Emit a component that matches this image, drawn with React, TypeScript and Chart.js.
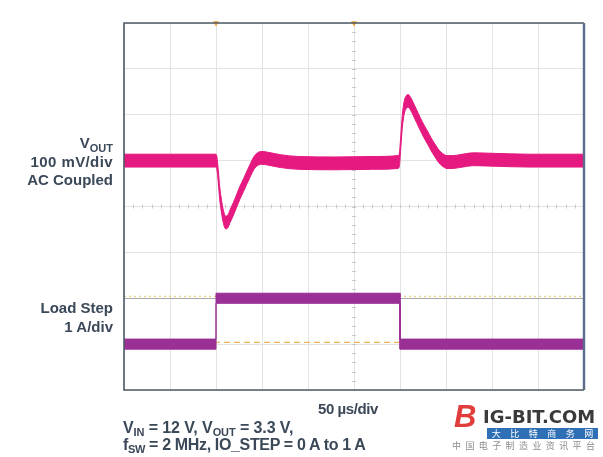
import React, { useEffect, useRef } from "react";
import { Chart, registerables } from "chart.js";

Chart.register(...registerables);

// ---- data ----
// time axis: 50 µs/div, 10 divisions
const timeMin = 0;
const timeMax = 500;
const timeStep = 50;

// VOUT trace (AC coupled, mV) — 100 mV/div
const voutTimeUs = [
  0, 50, 100, 101, 102.5, 104, 106, 108, 110.5, 113, 115.5, 118.5, 122, 126, 130, 134, 137.5,
  141, 145, 150, 157, 170, 190, 230, 270, 298, 299.5, 301, 302.5, 304.5, 307, 309, 311.5,
  314.5, 318, 322, 326, 330, 334, 338, 342, 346, 351, 358, 365, 380, 400, 440, 500,
];
const voutMv = [
  0, 0, 0, -6, -35, -70, -100, -122, -135, -132, -120, -107, -90, -70, -53, -35, -20,
  -6, 3, 6, 4, -1, -5, -6, -5, -3, 5, 45, 85, 115, 128, 130, 124,
  112, 97, 80, 64, 50, 35, 22, 10, 2, -3, -3, -1, 3, 2, 0, 0,
];
const voutMin = -500;
const voutMax = 300;
const voutStep = 100;
const voutNoiseMv = 14;

// Load step (A) — 1 A/div
const loadTimeUs = [0, 100, 100, 300, 300, 500];
const loadA = [0, 0, 1, 1, 0, 0];
const loadMin = -1;
const loadMax = 7;
const loadNoiseA = 0.11;

// cursor levels on the load channel
const cursorLevelsA = [1.04, 0.04];
// trigger / position markers on top edge
const markerTimesUs = [100, 250];

// ---- styles ----
const voutColor = "#e5197f";
const loadColor = "#9a2f95";
const textColor = "#3b4858";
const sans = "'Liberation Sans', Arial, Helvetica, sans-serif";

const frameAndTicks = {
  id: "frameAndTicks",
  beforeDatasetsDraw(chart: any) {
    const { ctx, scales } = chart;
    const x = scales.x;
    const y = scales.y;
    const cx = x.getPixelForValue((timeMin + timeMax) / 2);
    const cy = y.getPixelForValue(voutMin + (voutMax - voutMin) / 2);
    ctx.save();
    ctx.strokeStyle = "#c8c8c8";
    ctx.lineWidth = 1;
    ctx.beginPath();
    for (let t = timeMin; t <= timeMax; t += timeStep / 5) {
      const px = Math.round(x.getPixelForValue(t)) + 0.5;
      ctx.moveTo(px, cy - 2);
      ctx.lineTo(px, cy + 2);
    }
    for (let v = voutMin; v <= voutMax; v += voutStep / 5) {
      const py = Math.round(y.getPixelForValue(v)) + 0.5;
      ctx.moveTo(cx - 2, py);
      ctx.lineTo(cx + 2, py);
    }
    ctx.stroke();
    ctx.restore();
  },
  afterDraw(chart: any) {
    const { ctx, chartArea } = chart;
    ctx.save();
    ctx.strokeStyle = "#4f5966";
    ctx.lineWidth = 1.6;
    ctx.beginPath();
    ctx.moveTo(chartArea.right, chartArea.top);
    ctx.lineTo(chartArea.left, chartArea.top);
    ctx.lineTo(chartArea.left, chartArea.bottom);
    ctx.lineTo(chartArea.right, chartArea.bottom);
    ctx.stroke();
    ctx.strokeStyle = "#5a6c88";
    ctx.lineWidth = 2.4;
    ctx.beginPath();
    ctx.moveTo(chartArea.right, chartArea.top);
    ctx.lineTo(chartArea.right, chartArea.bottom);
    ctx.stroke();
    ctx.restore();
  },
};

function ChartCanvas() {
  const ref = useRef<HTMLCanvasElement | null>(null);
  useEffect(() => {
    if (!ref.current) return;
    const vUpper = voutTimeUs.map((t, i) => ({ x: t, y: voutMv[i] + voutNoiseMv }));
    const vLower = voutTimeUs.map((t, i) => ({ x: t, y: voutMv[i] - voutNoiseMv }));
    const lUpper = loadTimeUs.map((t, i) => ({ x: t, y: loadA[i] + loadNoiseA }));
    const lLower = loadTimeUs.map((t, i) => ({ x: t, y: loadA[i] - loadNoiseA }));
    const chart = new Chart(ref.current, {
      type: "line",
      data: {
        datasets: [
          {
            data: markerTimesUs.map((t) => ({ x: t, y: voutMax })),
            showLine: false,
            pointStyle: "triangle",
            rotation: 180,
            pointRadius: 3.5,
            pointBackgroundColor: "#f2a23a",
            pointBorderWidth: 0,
            yAxisID: "y",
            clip: false as any,
            order: 0,
          },
          {
            data: vUpper,
            yAxisID: "y",
            borderColor: voutColor,
            borderWidth: 1,
            backgroundColor: voutColor,
            fill: "+1",
            pointRadius: 0,
            cubicInterpolationMode: "monotone",
            order: 1,
          },
          {
            data: vLower,
            yAxisID: "y",
            borderColor: voutColor,
            borderWidth: 1,
            fill: false,
            pointRadius: 0,
            cubicInterpolationMode: "monotone",
            order: 1,
          },
          {
            data: lUpper,
            yAxisID: "y2",
            borderColor: loadColor,
            borderWidth: 1,
            backgroundColor: loadColor,
            fill: "+1",
            pointRadius: 0,
            tension: 0,
            order: 2,
          },
          {
            data: lLower,
            yAxisID: "y2",
            borderColor: loadColor,
            borderWidth: 1,
            fill: false,
            pointRadius: 0,
            tension: 0,
            order: 2,
          },
          {
            data: [
              { x: timeMin, y: cursorLevelsA[0] },
              { x: timeMax, y: cursorLevelsA[0] },
            ],
            yAxisID: "y2",
            borderColor: "#e6d27a",
            borderWidth: 1.3,
            borderDash: [2, 3],
            pointRadius: 0,
            fill: false,
            order: 3,
          },
          {
            data: [
              { x: timeMin, y: cursorLevelsA[1] },
              { x: timeMax, y: cursorLevelsA[1] },
            ],
            yAxisID: "y2",
            borderColor: "#f0b25c",
            borderWidth: 1.3,
            borderDash: [6, 4],
            pointRadius: 0,
            fill: false,
            order: 3,
          },
        ],
      },
      options: {
        responsive: false,
        animation: false,
        events: [],
        layout: { padding: { left: 124, top: 23, right: 19, bottom: 67 } },
        plugins: { legend: { display: false }, tooltip: { enabled: false } },
        scales: {
          x: {
            type: "linear",
            min: timeMin,
            max: timeMax,
            ticks: { display: false, stepSize: timeStep },
            grid: { color: "#e3e3e3", lineWidth: 1, drawTicks: false },
            border: { display: false },
          },
          y: {
            type: "linear",
            min: voutMin,
            max: voutMax,
            ticks: { display: false, stepSize: voutStep },
            grid: {
              color: (c: any) => (c.tick && c.tick.value === -300 ? "#a8a8a8" : "#e3e3e3"),
              lineWidth: 1,
              drawTicks: false,
            },
            border: { display: false },
          },
          y2: {
            type: "linear",
            display: false,
            min: loadMin,
            max: loadMax,
          },
        },
      },
      plugins: [frameAndTicks],
    });
    return () => chart.destroy();
  }, []);
  return <canvas ref={ref} width={603} height={457} style={{ width: 603, height: 457, display: "block" }} />;
}

const sub = (s: string, size: number, drop: number) => (
  <span style={{ fontSize: size, position: "relative", top: drop }}>{s}</span>
);

export default function App() {
  return (
    <div
      style={{
        position: "absolute",
        left: 0,
        top: 0,
        width: 603,
        height: 457,
        overflow: "hidden",
        background: "#ffffff",
        fontFamily: sans,
      }}
    >
      <ChartCanvas />
      <div
        style={{
          position: "absolute",
          left: 0,
          width: 113,
          top: 133.8,
          textAlign: "right",
          fontWeight: "bold",
          fontSize: 15,
          lineHeight: "18px",
          color: textColor,
          whiteSpace: "nowrap",
        }}
      >
        <div>V{sub("OUT", 11, 4)}</div>
        <div style={{ letterSpacing: 0.4 }}>100 mV/div</div>
        <div>AC Coupled</div>
      </div>
      <div
        style={{
          position: "absolute",
          left: 0,
          width: 113,
          top: 298.3,
          textAlign: "right",
          fontWeight: "bold",
          fontSize: 15,
          lineHeight: "19px",
          color: textColor,
          whiteSpace: "nowrap",
        }}
      >
        <div>Load Step</div>
        <div>1 A/div</div>
      </div>
      <div
        style={{
          position: "absolute",
          left: 248,
          width: 200,
          top: 399.8,
          textAlign: "center",
          fontWeight: "bold",
          fontSize: 15,
          lineHeight: "18px",
          letterSpacing: -0.4,
          color: textColor,
          whiteSpace: "nowrap",
        }}
      >
        50 µs/div
      </div>
      <div
        style={{
          position: "absolute",
          left: 123,
          top: 419.5,
          fontWeight: "bold",
          fontSize: 16,
          lineHeight: "16px",
          color: textColor,
          whiteSpace: "nowrap",
        }}
      >
        <div style={{ letterSpacing: -0.1 }}>
          V{sub("IN", 11, 3)} = 12 V, V{sub("OUT", 11, 3)} = 3.3 V,
        </div>
        <div style={{ letterSpacing: -0.35 }}>
          f{sub("SW", 11, 3)} = 2 MHz, IO_STEP = 0 A to 1 A
        </div>
      </div>
      {/* watermark */}
      <div
        style={{
          position: "absolute",
          left: 454,
          top: 401,
          fontWeight: "bold",
          fontStyle: "italic",
          fontSize: 31,
          lineHeight: "31px",
          color: "#e23d3d",
        }}
      >
        B
      </div>
      <div
        style={{
          position: "absolute",
          left: 483,
          top: 407.8,
          fontFamily: "'DejaVu Sans', sans-serif",
          fontWeight: "bold",
          fontSize: 18,
          lineHeight: "18px",
          color: "#3a3a3a",
          whiteSpace: "nowrap",
        }}
      >
        IG-BIT.COM
      </div>
      <div
        style={{
          position: "absolute",
          left: 487,
          top: 428,
          width: 111,
          height: 11,
          background: "#2f6fb6",
          display: "flex",
          justifyContent: "space-around",
          alignItems: "center",
          color: "#ffffff",
          fontFamily: "'Noto Sans CJK SC', sans-serif",
          fontSize: 9,
          lineHeight: "11px",
        }}
      >
        <span>大</span>
        <span>比</span>
        <span>特</span>
        <span>商</span>
        <span>务</span>
        <span>网</span>
      </div>
      <div
        style={{
          position: "absolute",
          left: 452,
          top: 441,
          fontFamily: "'Noto Sans CJK SC', sans-serif",
          fontSize: 9,
          lineHeight: "10px",
          letterSpacing: 4.4,
          color: "#8c8c8c",
          whiteSpace: "nowrap",
        }}
      >
        中国电子制造业资讯平台
      </div>
    </div>
  );
}
